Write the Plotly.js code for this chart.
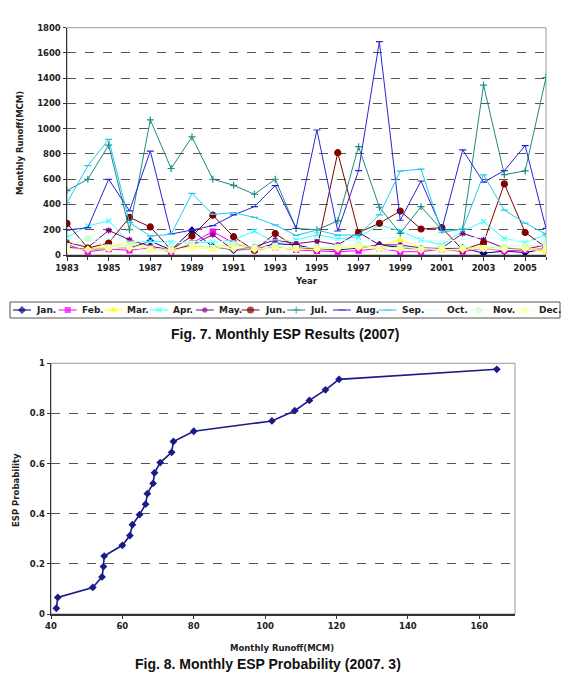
<!DOCTYPE html>
<html>
<head>
<meta charset="utf-8">
<script src="https://cdn.plot.ly/plotly-3.0.1.min.js"></script>
<style>html,body{margin:0;padding:0;background:#fff;}#chart{width:570px;height:673px;}</style>
</head>
<body>
<div id="chart"></div>
<script>
// ---------- Data: Fig. 7 Monthly ESP results ----------
const years = [1983,1984,1985,1986,1987,1988,1989,1990,1991,1992,1993,1994,1995,1996,1997,1998,1999,2000,2001,2002,2003,2004,2005,2006];
const monthLabels = ["Jan.","Feb.","Mar.","Apr.","May.","Jun.","Jul.","Aug.","Sep.","Oct.","Nov.","Dec."];
const jan = [60,45,50,55,110,40,195,65,40,45,90,80,45,40,55,80,60,40,50,55,15,30,20,50];
const feb = [85,26,47,37,56,26,95,185,95,40,60,40,32,26,34,53,26,26,47,26,53,32,40,53];
const mar = [110,55,60,105,45,40,70,60,95,50,55,45,50,55,65,70,120,60,40,40,70,50,50,25];
const apr = [140,230,270,100,110,100,95,100,120,190,95,120,160,130,140,240,190,120,80,190,264,130,100,160];
const may = [100,60,195,120,70,40,80,160,40,65,120,90,110,80,180,80,80,55,55,170,120,55,45,80];
const jun = [250,55,95,298,222,40,150,315,145,37,170,60,45,810,177,251,348,206,216,40,97,563,178,60];
const jul = [510,600,870,200,1070,685,935,600,552,481,600,210,200,270,858,378,172,383,198,203,1346,636,666,1405];
const aug = [198,216,600,350,823,166,198,232,317,383,549,212,990,190,668,1690,275,586,205,832,576,668,866,211];
const sep = [414,707,916,256,150,164,488,322,335,298,238,155,198,158,158,317,665,680,180,206,634,355,253,164];
const oct = [130,125,130,110,100,95,105,110,100,110,120,115,130,120,110,130,140,120,110,120,150,120,110,120];
const nov = [70,130,60,80,50,45,90,55,70,60,70,55,60,65,85,55,60,50,60,55,55,65,70,80];
const dec = [50,45,50,55,40,35,60,45,50,45,55,45,45,50,60,45,45,40,45,45,50,45,50,45];
const monthSeries = [jan,feb,mar,apr,may,jun,jul,aug,sep,oct,nov,dec];

// ---------- Data: Fig. 8 Monthly ESP probability (2007.3) ----------
const runoffMCM = [41.5,41.9,51.7,54.3,54.7,54.9,60.0,62.1,62.8,64.8,66.5,67.0,68.6,69.0,70.6,73.8,74.3,80.0,101.9,108.3,112.4,116.9,120.7,164.9];
const espProb = [0.023,0.066,0.106,0.148,0.189,0.231,0.274,0.313,0.356,0.396,0.438,0.480,0.521,0.563,0.604,0.645,0.688,0.729,0.770,0.811,0.852,0.894,0.936,0.976];

// ---------- Styles ----------
const colors = ["#000080","#ff00ff","#ffff00","#33ffff","#800080","#800000","#1f8a80","#2626d9","#22c8f0","#ccffff","#ccffcc","#ffff99"];
const symbols = ["diamond","square","triangle-up","x-thin-open","asterisk-open","circle","cross-thin-open","line-ew-open","line-ew-open","circle","square","diamond"];
const sizes = [5,5,5,5,5,6,5,5,5,0,5,5];

const W = 570, H = 673;
const px = v => v / W;
const py = v => 1 - v / H;

const traces = [];
monthSeries.forEach((vals, i) => {
  traces.push({
    x: years, y: vals, xaxis: 'x', yaxis: 'y',
    type: 'scatter', mode: sizes[i] > 0 ? 'lines+markers' : 'lines',
    line: {color: colors[i], width: 1},
    marker: {symbol: symbols[i], size: sizes[i], color: colors[i], line: {color: colors[i], width: 1.2}},
    showlegend: false, hoverinfo: 'skip'
  });
});

traces.push({
  x: runoffMCM, y: espProb, xaxis: 'x2', yaxis: 'y2',
  type: 'scatter', mode: 'lines+markers',
  line: {color: '#1a1a88', width: 1.6},
  marker: {symbol: 'diamond', size: 6, color: '#1a1a88'},
  showlegend: false, hoverinfo: 'skip'
});

// custom compact legend (layout)
const legStep = 45.7;
const annotations = [];
monthLabels.forEach((lab, i) => {
  const x0 = 3 + i * legStep;
  traces.push({
    x: [x0, x0 + 9, x0 + 18], y: [0.5, 0.5, 0.5], xaxis: 'x3', yaxis: 'y3',
    type: 'scatter', mode: 'lines+markers',
    line: {color: colors[i], width: 1},
    marker: {symbol: symbols[i], size: [0, sizes[i], 0], color: colors[i], line: {color: colors[i], width: 1.1}},
    showlegend: false, hoverinfo: 'skip'
  });
  annotations.push({
    xref: 'x3', yref: 'y3', x: x0 + 21, y: 0.5, text: lab, showarrow: false,
    xanchor: 'left', yanchor: 'middle',
    font: {family: 'DejaVu Sans', size: 9, color: '#222', weight: 'bold'}
  });
});

const tickFont = {family: 'DejaVu Sans', size: 8.5, color: '#222', weight: 'bold'};
const titleFont = {family: 'DejaVu Sans', size: 8.5, color: '#222', weight: 600};
const capFont = {family: 'Liberation Sans', size: 14, color: '#111', weight: 'bold'};

annotations.push(
  {xref:'paper', yref:'paper', x: px(20), y: py(143), text: 'Monthly Runoff(MCM)', textangle: -90, showarrow: false, font: titleFont, xanchor:'center', yanchor:'middle'},
  {xref:'paper', yref:'paper', x: px(285), y: py(334), text: 'Fig. 7. Monthly ESP Results (2007)', showarrow: false, font: capFont, xanchor:'center', yanchor:'middle'},
  {xref:'paper', yref:'paper', x: px(16), y: py(490), text: 'ESP Probability', textangle: -90, showarrow: false, font: titleFont, xanchor:'center', yanchor:'middle'},
  {xref:'paper', yref:'paper', x: px(282), y: py(648), text: 'Monthly Runoff(MCM)', showarrow: false, font: titleFont, xanchor:'center', yanchor:'middle'},
  {xref:'paper', yref:'paper', x: px(268), y: py(664), text: 'Fig. 8. Monthly ESP Probability (2007. 3)', showarrow: false, font: capFont, xanchor:'center', yanchor:'middle'}
);

const layout = {
  width: W, height: H,
  margin: {l: 0, r: 0, t: 0, b: 0},
  paper_bgcolor: '#fff', plot_bgcolor: '#fff',
  showlegend: false,
  xaxis: {
    domain: [px(67), px(546)], anchor: 'y',
    range: [1983, 2006], tickmode: 'linear', tick0: 1983, dtick: 2,
    ticks: 'outside', ticklen: 4, tickcolor: '#333',
    minor: {dtick: 1, ticks: 'outside', ticklen: 3, tickcolor: '#333', showgrid: false},
    showgrid: false, zeroline: false, showline: true, linecolor: '#333', linewidth: 1.5,
    tickfont: tickFont, fixedrange: true,
    title: {text: 'Year', font: titleFont, standoff: 6}
  },
  yaxis: {
    domain: [py(255), py(27.7)], anchor: 'x',
    range: [0, 1800], tickmode: 'linear', tick0: 0, dtick: 200,
    ticks: 'outside', ticklen: 3, tickcolor: '#333',
    showgrid: true, gridcolor: '#555', griddash: 'dash', gridwidth: 1,
    zeroline: false, showline: true, linecolor: '#333', linewidth: 1.5,
    tickfont: tickFont, fixedrange: true
  },
  xaxis2: {
    domain: [px(51), px(515)], anchor: 'y2',
    range: [40, 170], tickmode: 'linear', tick0: 40, dtick: 20,
    ticks: 'outside', ticklen: 3, tickcolor: '#333',
    showgrid: false, zeroline: false, showline: true, linecolor: '#333', linewidth: 1.5,
    tickfont: tickFont, fixedrange: true
  },
  yaxis2: {
    domain: [py(614), py(363.3)], anchor: 'x2',
    range: [0, 1], tickmode: 'linear', tick0: 0, dtick: 0.2,
    ticks: 'outside', ticklen: 3, tickcolor: '#333',
    showgrid: true, gridcolor: '#555', griddash: 'dash', gridwidth: 1,
    zeroline: false, showline: true, linecolor: '#333', linewidth: 1.5,
    tickfont: tickFont, fixedrange: true
  },
  xaxis3: {domain: [px(10), px(560)], anchor: 'y3', range: [0, 550], visible: false, fixedrange: true},
  yaxis3: {domain: [py(318), py(302)], anchor: 'x3', range: [0, 1], visible: false, fixedrange: true},
  shapes: [
    {type: 'rect', xref: 'x domain', yref: 'y domain', x0: 0, x1: 1, y0: 0, y1: 1, line: {color: '#999', width: 1}, layer: 'below'},
    {type: 'rect', xref: 'x2 domain', yref: 'y2 domain', x0: 0, x1: 1, y0: 0, y1: 1, line: {color: '#999', width: 1}, layer: 'below'},
    {type: 'rect', xref: 'paper', yref: 'paper', x0: px(10), x1: px(560), y0: py(318), y1: py(302), line: {color: '#555', width: 1}, fillcolor: 'rgba(0,0,0,0)'}
  ],
  annotations: annotations
};

Plotly.newPlot('chart', traces, layout, {staticPlot: true, displayModeBar: false});
</script>
</body>
</html>
